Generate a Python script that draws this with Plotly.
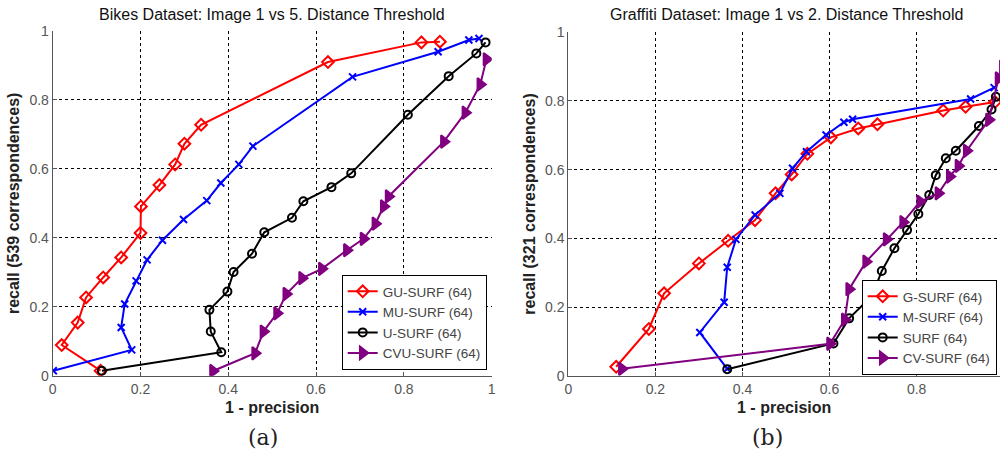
import plotly.graph_objects as go

# ---- Bikes dataset (image 1 vs 5) ----
bikes_gu_x = [0.882, 0.840, 0.627, 0.338, 0.300, 0.279, 0.243, 0.201, 0.200, 0.156, 0.115, 0.076, 0.057, 0.0205, 0.109]
bikes_gu_y = [0.969, 0.967, 0.910, 0.728, 0.673, 0.613, 0.553, 0.491, 0.414, 0.343, 0.285, 0.227, 0.154, 0.089, 0.0145]

bikes_mu_x = [0.971, 0.948, 0.878, 0.683, 0.456, 0.424, 0.383, 0.351, 0.298, 0.250, 0.215, 0.190, 0.164, 0.156, 0.180, 0.0014]
bikes_mu_y = [0.978, 0.974, 0.940, 0.867, 0.666, 0.613, 0.559, 0.508, 0.453, 0.393, 0.336, 0.275, 0.208, 0.140, 0.075, 0.0145]

bikes_u_x = [0.986, 0.965, 0.902, 0.809, 0.680, 0.635, 0.571, 0.545, 0.482, 0.454, 0.412, 0.398, 0.357, 0.360, 0.384, 0.112]
bikes_u_y = [0.967, 0.935, 0.869, 0.757, 0.587, 0.547, 0.506, 0.458, 0.416, 0.354, 0.301, 0.244, 0.191, 0.128, 0.068, 0.0145]

bikes_cvu_x = [0.988, 0.974, 0.940, 0.891, 0.765, 0.754, 0.735, 0.708, 0.670, 0.613, 0.568, 0.532, 0.511, 0.480, 0.461, 0.365]
bikes_cvu_y = [0.918, 0.845, 0.763, 0.679, 0.520, 0.491, 0.441, 0.397, 0.364, 0.310, 0.283, 0.237, 0.181, 0.128, 0.065, 0.0137]

# ---- Graffiti dataset (image 1 vs 2) ----
graf_g_x = [0.110, 0.185, 0.220, 0.300, 0.367, 0.429, 0.476, 0.513, 0.549, 0.603, 0.666, 0.710, 0.861, 0.9125, 0.980]
graf_g_y = [0.026, 0.136, 0.240, 0.327, 0.393, 0.453, 0.531, 0.586, 0.646, 0.694, 0.720, 0.732, 0.772, 0.783, 0.797]

graf_m_x = [0.365, 0.302, 0.358, 0.365, 0.385, 0.429, 0.486, 0.515, 0.547, 0.592, 0.633, 0.653, 0.924, 0.978]
graf_m_y = [0.020, 0.126, 0.214, 0.316, 0.397, 0.468, 0.531, 0.604, 0.652, 0.701, 0.738, 0.747, 0.806, 0.839]

graf_s_x = [0.365, 0.609, 0.645, 0.698, 0.720, 0.749, 0.778, 0.804, 0.829, 0.844, 0.867, 0.890, 0.943, 0.972, 0.982]
graf_s_y = [0.019, 0.094, 0.167, 0.233, 0.305, 0.371, 0.424, 0.471, 0.526, 0.584, 0.633, 0.655, 0.727, 0.775, 0.812]

graf_cv_x = [0.123, 0.601, 0.635, 0.645, 0.684, 0.731, 0.769, 0.808, 0.850, 0.876, 0.896, 0.915, 0.966, 0.988, 0.998]
graf_cv_y = [0.020, 0.093, 0.163, 0.252, 0.332, 0.397, 0.447, 0.507, 0.531, 0.580, 0.611, 0.655, 0.745, 0.866, 0.90]

tick_vals = [0, 0.2, 0.4, 0.6, 0.8, 1]
tick_text = ["0", "0.2", "0.4", "0.6", "0.8", "1"]

RED = "#ff0000"
BLUE = "#0000ff"
BLACK = "#000000"
PURPLE = "#800080"

FONT = "Liberation Sans, Arial, sans-serif"

styles = {
    "red": dict(color=RED, symbol="diamond-open", size=9),
    "blue": dict(color=BLUE, symbol="x-thin-open", size=7),
    "black": dict(color=BLACK, symbol="circle-open", size=8),
    "purple": dict(color=PURPLE, symbol="triangle-right", size=11),
}


def add_series(fig, x, y, name, style, xa, ya, legend):
    st = styles[style]
    fig.add_trace(go.Scatter(
        x=x, y=y, name=name, mode="lines+markers",
        line=dict(color=st["color"], width=2),
        marker=dict(color=st["color"], symbol=st["symbol"], size=st["size"],
                    line=dict(color=st["color"], width=2)),
        xaxis=xa, yaxis=ya, legend=legend,
    ))


fig = go.Figure()

add_series(fig, bikes_gu_x, bikes_gu_y, "GU-SURF (64)", "red", "x", "y", "legend")
add_series(fig, bikes_mu_x, bikes_mu_y, "MU-SURF (64)", "blue", "x", "y", "legend")
add_series(fig, bikes_u_x, bikes_u_y, "U-SURF (64)", "black", "x", "y", "legend")
add_series(fig, bikes_cvu_x, bikes_cvu_y, "CVU-SURF (64)", "purple", "x", "y", "legend")

add_series(fig, graf_g_x, graf_g_y, "G-SURF (64)", "red", "x2", "y2", "legend2")
add_series(fig, graf_m_x, graf_m_y, "M-SURF (64)", "blue", "x2", "y2", "legend2")
add_series(fig, graf_s_x, graf_s_y, "SURF (64)", "black", "x2", "y2", "legend2")
add_series(fig, graf_cv_x, graf_cv_y, "CV-SURF (64)", "purple", "x2", "y2", "legend2")

H = 457.0
W = 1000.0

axis_common = dict(
    showline=True, linecolor="#555555", linewidth=1,
    showgrid=True, gridcolor="#000000", gridwidth=1, griddash="dot",
    zeroline=False, ticks="inside", ticklen=4, tickcolor="#555555",
    tickvals=tick_vals, ticktext=tick_text, automargin=False,
    tickfont=dict(family=FONT, size=14, color="#555555"),
    title_font=dict(family=FONT, size=16, color="#222222"),
)

legend_common = dict(
    bgcolor="#ffffff", bordercolor="#000000", borderwidth=1,
    font=dict(family=FONT, size=13.5, color="#444444"),
    tracegroupgap=0, itemsizing="trace",
    xanchor="right", yanchor="bottom",
)

fig.update_layout(
    width=1000, height=457,
    margin=dict(l=0, r=0, t=0, b=0),
    paper_bgcolor="#ffffff", plot_bgcolor="#ffffff",
    showlegend=True,
    xaxis=dict(axis_common, domain=[52.7 / W, 491.7 / W], range=[0, 1], anchor="y",
               title=dict(text="<b>1 - precision</b>", standoff=6)),
    yaxis=dict(axis_common, domain=[(H - 375.7) / H, (H - 31) / H], range=[0, 1], anchor="x",
               title=dict(text="<b>recall (539 correspondences)</b>", standoff=5)),
    xaxis2=dict(axis_common, domain=[568.3 / W, 1.0], range=[0, 0.9915], anchor="y2",
                title=dict(text="<b>1 - precision</b>", standoff=6)),
    yaxis2=dict(axis_common, domain=[(H - 375.7) / H, (H - 32.3) / H], range=[0, 1], anchor="x2",
                title=dict(text="<b>recall (321 correspondences)</b>", standoff=5)),
    legend=dict(legend_common, x=486.7 / W, y=(H - 370) / H),
    legend2=dict(legend_common, x=996.7 / W, y=(H - 375) / H),
    annotations=[
        dict(text="Bikes Dataset: Image 1 vs 5. Distance Threshold", x=272 / W, y=1 - 15 / H,
             xref="paper", yref="paper", showarrow=False, xanchor="center", yanchor="middle",
             font=dict(family=FONT, size=16, color="#111111")),
        dict(text="Graffiti Dataset: Image 1 vs 2. Distance Threshold", x=786 / W, y=1 - 15 / H,
             xref="paper", yref="paper", showarrow=False, xanchor="center", yanchor="middle",
             font=dict(family=FONT, size=16, color="#111111")),
        dict(text="(a)", x=263 / W, y=1 - 437 / H, xref="paper", yref="paper",
             showarrow=False, xanchor="center", yanchor="middle",
             font=dict(family="DejaVu Serif, Liberation Serif, serif", size=22, color="#222222")),
        dict(text="(b)", x=767 / W, y=1 - 437 / H, xref="paper", yref="paper",
             showarrow=False, xanchor="center", yanchor="middle",
             font=dict(family="DejaVu Serif, Liberation Serif, serif", size=22, color="#222222")),
    ],
)

fig.write_html("out.html")
